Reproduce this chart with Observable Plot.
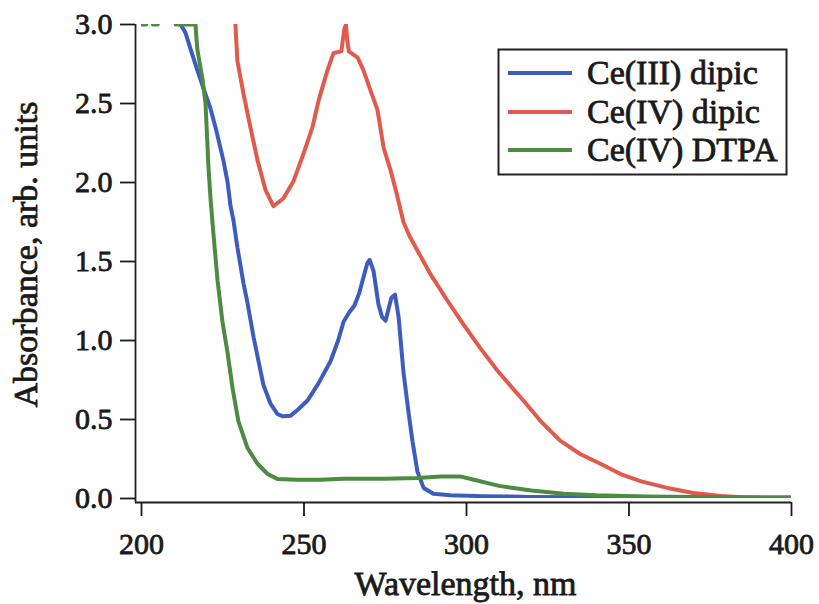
<!DOCTYPE html>
<html><head><meta charset="utf-8">
<script src="https://cdn.jsdelivr.net/npm/d3@7"></script>
<script src="https://cdn.jsdelivr.net/npm/@observablehq/plot@0.6"></script>
<style>
body{margin:0;background:#fff;}
#wrap{position:relative;width:819px;height:604px;}
#wrap svg text{stroke:#1a1a1a;stroke-width:0.8px;paint-order:stroke;}
</style></head>
<body>
<div id="wrap"></div>
<script>
const seriesNames = ["Ce(III) dipic", "Ce(IV) dipic", "Ce(IV) DTPA"];
const seriesColors = ["#3d5cbf", "#e25a4b", "#4d8a42"];
const xTicks = [200, 250, 300, 350, 400];
const yTicks = [0, 0.5, 1.0, 1.5, 2.0, 2.5, 3.0];
const xTitle = "Wavelength, nm";
const yTitle = "Absorbance, arb. units";

// Ce(III) dipic
const wlCe3 = [212.0,213.5,215.0,217.2,219.0,221.2,223.0,225.2,226.5,227.4,228.3,229.5,231.4,232.5,234.5,236.0,237.5,239.7,241.8,243.5,245.8,248.0,251.1,254.5,258.2,260.5,262.2,264.0,265.5,267.0,268.3,269.5,270.2,271.4,272.9,274.0,275.1,276.0,276.9,278.0,279.1,280.6,282.2,283.4,284.9,286.8,289.8,295,305,320,335,350,370,400];
const absCe3 = [3.0,2.95,2.85,2.71,2.60,2.47,2.33,2.14,2.0,1.85,1.76,1.59,1.36,1.25,1.02,0.87,0.72,0.60,0.535,0.52,0.523,0.56,0.62,0.73,0.87,1.0,1.12,1.18,1.22,1.30,1.40,1.49,1.51,1.44,1.23,1.15,1.125,1.20,1.27,1.29,1.15,0.80,0.54,0.36,0.17,0.067,0.03,0.02,0.015,0.01,0.008,0.004,0.002,0.0];

// Ce(IV) dipic
const wlCe4 = [228.9,229.5,231.4,233.5,235.7,238.2,240.6,243.7,246.8,249.8,252.6,254.5,257.2,259.1,261.5,262.4,262.9,263.3,263.8,266.5,268.3,270.5,272.6,274.5,276.6,278.5,280.6,282.5,284.9,288.9,294.2,299.1,304.3,309.5,314.5,317.5,322.8,328.9,335.1,341.2,347.4,353.5,361.8,369.8,378.2,385.0,391.4];
const absCe4 = [3.0,2.77,2.56,2.35,2.14,1.95,1.85,1.90,2.01,2.18,2.35,2.52,2.71,2.82,2.83,2.97,3.0,2.9,2.83,2.79,2.71,2.58,2.46,2.22,2.08,1.93,1.75,1.66,1.57,1.42,1.25,1.10,0.95,0.81,0.69,0.62,0.49,0.365,0.28,0.22,0.155,0.11,0.067,0.035,0.016,0.008,0.003];

// Ce(IV) DTPA (NaN = off-scale gap)
const wlDtpa = [200.0,201.5,202.5,203.5,205.0,207.0,210.5,216.6,217.2,218.8,219.7,220.6,221.3,222.2,223.4,224.9,226.5,228.0,229.8,232.6,235.7,238.8,241.8,248,255,262,275,285,292,298,302,310,320,330,340,355,370,385,400];
const absDtpa = [3.0,3.0,NaN,3.0,3.0,NaN,3.0,3.0,2.84,2.65,2.50,2.10,1.88,1.66,1.38,1.12,0.92,0.70,0.49,0.32,0.22,0.155,0.124,0.118,0.118,0.125,0.125,0.13,0.14,0.14,0.12,0.08,0.05,0.03,0.02,0.012,0.01,0.008,0.008];

const rows = [];
[[wlCe3, absCe3], [wlCe4, absCe4], [wlDtpa, absDtpa]].forEach(([xs, ys], i) => {
  xs.forEach((x, j) => rows.push({series: seriesNames[i], wl: x, abs: ys[j]}));
});

const font = '"Liberation Serif", "Times New Roman", serif';
const chart = Plot.plot({
  width: 819, height: 604,
  marginLeft: 141, marginRight: 28, marginTop: 24, marginBottom: 106,
  style: {fontFamily: font, color: "#1a1a1a", background: "#fff", overflow: "visible"},
  x: {domain: [200, 400]},
  y: {domain: [0, 3]},
  color: {domain: seriesNames, range: seriesColors},
  marks: [
    Plot.ruleX([200], {dx: -6, insetBottom: -4, stroke: "#222", strokeWidth: 1.8}),
    Plot.ruleY([0], {dy: 4, insetLeft: -6, stroke: "#222", strokeWidth: 1.8}),
    Plot.axisX(xTicks, {tickSize: 14, dy: 4, tickPadding: 16, fontSize: 30, tickFormat: d => String(d), label: null, strokeWidth: 1.8}),
    Plot.axisY(yTicks, {tickSize: 15, dx: -6, tickPadding: 8, fontSize: 30, tickFormat: d3.format(".1f"), label: null, strokeWidth: 1.8}),
    Plot.line(rows, {x: "wl", y: "abs", z: "series", stroke: "series", strokeWidth: 4, clip: true, curve: "linear"}),
    Plot.text([xTitle], {frameAnchor: "bottom", textAnchor: "middle", lineAnchor: "middle", dx: -1, dy: 86, fontSize: 34}),
    Plot.text([yTitle], {frameAnchor: "left", textAnchor: "middle", lineAnchor: "middle", rotate: -90, dx: -115, dy: -7, fontSize: 34})
  ]
});
document.getElementById("wrap").appendChild(chart);

// legend box drawn into the same SVG
const svg = d3.select(chart);
const lg = svg.append("g").attr("font-family", font).attr("font-size", 34).attr("text-anchor", "start");
lg.append("rect").attr("x", 498.5).attr("y", 49.5).attr("width", 288).attr("height", 125)
  .attr("fill", "#fff").attr("stroke", "#222").attr("stroke-width", 2);
const centers = [73, 112, 150];
seriesNames.forEach((name, i) => {
  lg.append("line").attr("x1", 508).attr("x2", 572).attr("y1", centers[i]).attr("y2", centers[i])
    .attr("stroke", seriesColors[i]).attr("stroke-width", 4);
  lg.append("text").attr("x", 587).attr("y", centers[i]).attr("dy", "0.33em")
    .attr("text-anchor", "start").attr("fill", "#1a1a1a").text(name);
});
</script>
</body></html>
